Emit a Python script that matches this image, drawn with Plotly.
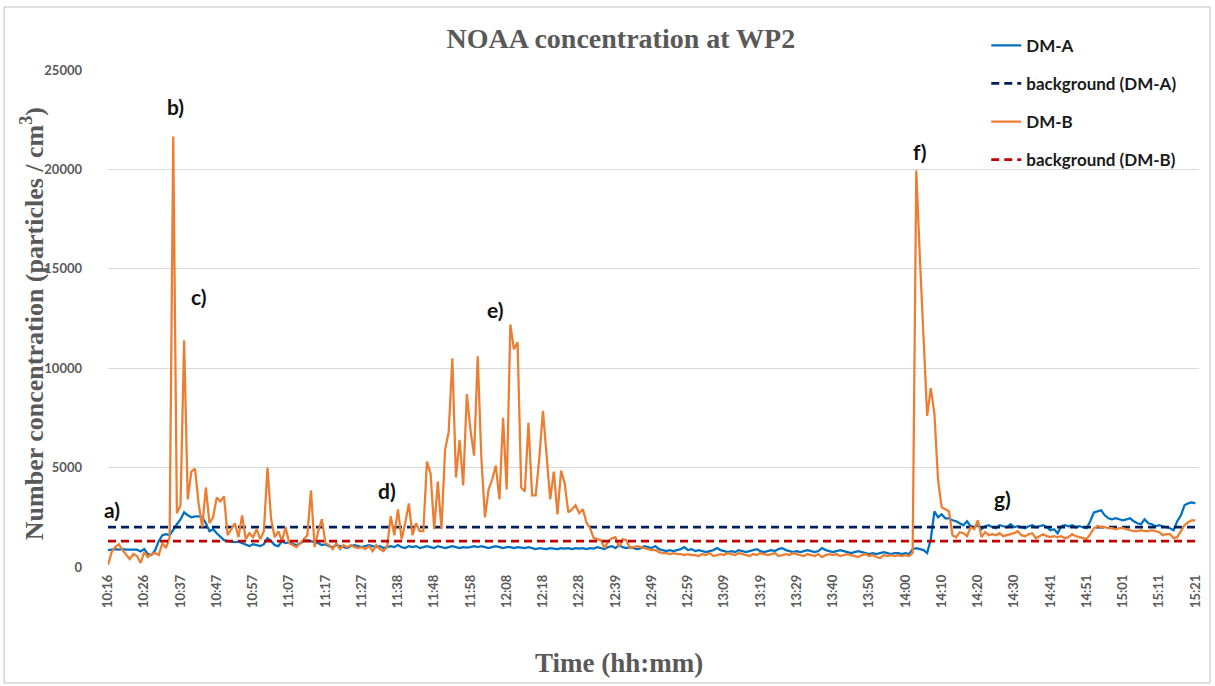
import plotly.graph_objects as go

tick_labels = ["10:16", "10:26", "10:37", "10:47", "10:57", "11:07", "11:17", "11:27",
               "11:38", "11:48", "11:58", "12:08", "12:18", "12:28", "12:39", "12:49",
               "12:59", "13:09", "13:19", "13:29", "13:40", "13:50", "14:00", "14:10",
               "14:20", "14:30", "14:41", "14:51", "15:01", "15:11", "15:21"]
points_per_label = 10

dm_a = [
    850, 880, 900, 880, 900, 870, 860, 880, 870, 780,
    900, 650, 600, 850, 1300, 1600, 1650, 1600, 1900, 2150,
    2400, 2750, 2600, 2500, 2550, 2550, 2500, 2200, 1800, 1900,
    1700, 1500, 1350, 1300, 1280, 1250, 1270, 1200, 1100, 1050,
    1150, 1100, 1050, 1150, 1450, 1300, 1100, 1050, 1300, 1200,
    1250, 1150, 1100, 1200, 1300, 1350, 1300, 1250, 1200, 1100,
    1150, 1050, 1000, 1100, 1050, 1000, 950, 1050, 1100, 1050,
    1000, 1050, 1100, 1050, 1000, 1050, 950, 1000, 1050, 1000,
    1100, 1000, 950, 1050, 1000, 1050, 950, 1000, 1050, 1000,
    950, 1050, 1000, 950, 1000, 1050, 1000, 950, 1000, 980,
    1000, 1050, 1000, 1050, 1000, 950, 1000, 1050, 1000, 950,
    1000, 1000, 950, 1000, 980, 950, 1000, 950, 900, 950,
    930, 900, 950, 930, 900, 950, 920, 950, 900, 950,
    920, 950, 900, 950, 930, 1000, 950, 900, 1000, 1050,
    950, 1100, 1000, 950, 1000, 950, 900, 950, 1050, 1000,
    950, 1050, 900, 850, 800, 850, 800, 850, 900, 1000,
    850, 900, 800, 850, 800, 750, 800, 850, 950, 850,
    800, 750, 800, 750, 850, 800, 750, 800, 850, 900,
    800, 750, 800, 850, 800, 900, 950, 850, 800, 750,
    800, 750, 800, 850, 800, 750, 800, 950, 850, 800,
    750, 800, 850, 800, 750, 700, 750, 800, 750, 700,
    650, 700, 650, 700, 750, 700, 650, 700, 700, 650,
    700, 650, 900, 950, 900, 850, 700, 1400, 2800, 2500,
    2650, 2450, 2450, 2350, 2300, 2200, 2100, 2300, 2050, 2000,
    2100, 1900, 2050, 2100, 2000, 1950, 2100, 2050, 2000, 2150,
    2000, 2050, 2000, 1950, 2050, 2100, 2000, 2050, 2100, 2000,
    1850, 1900, 1700, 2050, 2100, 2050, 2100, 2000, 2050, 2000,
    1950, 2300, 2750, 2800, 2850, 2600, 2450, 2400, 2450, 2400,
    2350, 2400, 2450, 2300, 2200, 2150, 2400, 2200, 2150, 2050,
    2100, 2050, 2000, 1950, 1850, 2300, 2600, 3100, 3200, 3250,
    3200,
]

dm_b = [
    100, 750, 1000, 1150, 850, 600, 400, 650, 550, 200,
    750, 500, 650, 700, 600, 1200, 950, 1500, 21650, 2700,
    3100, 11400, 3400, 4800, 4950, 3200, 2000, 4000, 2200, 2500,
    3500, 3300, 3550, 1600, 1900, 2200, 1500, 2600, 1400, 1700,
    1500, 1900, 1400, 1800, 5000, 2400, 1500, 1800, 1300, 2000,
    1200, 1100, 1000, 1200, 1400, 1600, 3850, 1000, 1800, 2400,
    1200, 1100, 900, 1200, 900, 1100, 1000, 1100, 1000, 950,
    1000, 900, 1050, 800, 1100, 900, 800, 1000, 2550, 1600,
    2900, 1400, 2200, 3200, 1600, 2200, 1800, 1800, 5300, 4700,
    1900, 4300, 1900, 5900, 6800, 10500, 4500, 6400, 4100, 8700,
    6900, 5600, 10600, 5500, 2500, 3900, 4400, 5100, 3400, 7500,
    3900, 12200, 10950, 11300, 4000, 3800, 7250, 3600, 3600, 5500,
    7850, 5400, 3400, 4800, 2650, 4850, 4200, 2750, 2900, 3100,
    2700, 2900, 2250, 1950, 1450, 1400, 1350, 950, 1300, 1450,
    1500, 1000, 1400, 1350, 950, 1000, 1050, 1000, 950, 900,
    850, 850, 750, 700, 700, 650, 700, 650, 650, 600,
    650, 600, 600, 550, 650, 600, 700, 550, 600, 650,
    600, 700, 650, 600, 700, 650, 600, 550, 650, 600,
    700, 650, 600, 650, 700, 550, 600, 650, 600, 700,
    650, 600, 550, 650, 600, 550, 650, 500, 600, 650,
    600, 650, 550, 600, 650, 600, 550, 500, 600, 650,
    550, 600, 500, 450, 600, 550, 600, 550, 600, 550,
    600, 550, 700, 19950, 15500, 11500, 7600, 9000, 7700, 4400,
    3000, 2900, 2800, 1600, 1500, 1750, 1700, 1550, 2000, 1900,
    2350, 1500, 1750, 1600, 1650, 1600, 1700, 1550, 1600, 1650,
    1700, 1800, 1600, 1550, 1650, 1700, 1450, 1550, 1650, 1550,
    1500, 1550, 1500, 1550, 1450, 1500, 1650, 1550, 1500, 1450,
    1400, 1650, 1950, 2050, 2000, 2000, 1950, 1950, 1900, 1950,
    1950, 1900, 1850, 1800, 1800, 1850, 1800, 1800, 1850, 1800,
    1750, 1600, 1650, 1650, 1450, 1500, 1800, 2100, 2250, 2350,
    2350,
]

background_a = 2000
background_b = 1300

# annotation labels: (text, sample index, value)
event_labels = [("a)", 1.2, 2900), ("b)", 18.5, 23150), ("c)", 25.1, 13600),
                ("d)", 77.1, 3830), ("e)", 106.9, 12960), ("f)", 223.8, 20900),
                ("g)", 246.9, 3440)]

y_ticks = [0, 5000, 10000, 15000, 20000, 25000]

xa = list(range(len(dm_a)))
xb = list(range(len(dm_b)))
n_last = max(len(dm_a), len(dm_b)) - 1
tick_vals = [i * points_per_label for i in range(len(tick_labels))]

fig = go.Figure()
fig.add_trace(go.Scatter(x=xa, y=dm_a, mode="lines", name="DM-A", legendgroup="g1",
                         line=dict(color="#0070C0", width=2.25)))
fig.add_trace(go.Scatter(x=[0, n_last], y=[background_a, background_a], mode="lines",
                         name="background (DM-A)", legendgroup="g2",
                         line=dict(color="#002060", width=2.75, dash="8px,5px")))
fig.add_trace(go.Scatter(x=xb, y=dm_b, mode="lines", name="DM-B", legendgroup="g3",
                         line=dict(color="#ED7D31", width=2.25)))
fig.add_trace(go.Scatter(x=[0, n_last], y=[background_b, background_b], mode="lines",
                         name="background (DM-B)", legendgroup="g4",
                         line=dict(color="#C00000", width=2.75, dash="8px,5px")))

for txt, xi, yv in event_labels:
    fig.add_annotation(x=xi, y=yv, text="<b>%s</b>" % txt, showarrow=False,
                       font=dict(family="Lato", size=21, color="#111111"),
                       xanchor="center", yanchor="middle")

serif = "Liberation Serif, Times New Roman, serif"
gray = "#595959"

fig.add_annotation(xref="paper", yref="paper", x=0.4684, y=-0.194,
                   text="<b>Time (hh:mm)</b>", showarrow=False,
                   font=dict(family=serif, size=27, color=gray),
                   xanchor="center", yanchor="middle")
fig.add_annotation(xref="paper", yref="paper", x=-0.069, y=0.49,
                   text="<b>Number concentration (particles / cm<sup>3</sup>)</b>",
                   showarrow=False, textangle=-90,
                   font=dict(family=serif, size=26, color=gray),
                   xanchor="center", yanchor="middle")

fig.add_shape(type="rect", xref="paper", yref="paper",
              x0=-0.0952, x1=1.0101, y0=-0.2334, y1=1.1268,
              line=dict(color="#bfbfbf", width=1), fillcolor="rgba(0,0,0,0)", layer="below")

fig.update_layout(
    width=1215, height=686,
    margin=dict(l=108, r=14, t=70, b=119),
    paper_bgcolor="white", plot_bgcolor="white",
    title=dict(text="<b>NOAA concentration at WP2</b>", x=0.511, xanchor="center",
               y=1 - 38 / 686, yanchor="middle",
               font=dict(family=serif, size=28, color=gray)),
    showlegend=True,
    legend=dict(x=0.805, xanchor="left", y=1.085, yanchor="top",
                bgcolor="rgba(0,0,0,0)", tracegroupgap=13,
                font=dict(family="Lato", size=17, color="#1a1a1a", weight="bold")),
    xaxis=dict(range=[0, n_last + 1], tickmode="array", tickvals=tick_vals,
               ticktext=tick_labels, tickangle=-90, showgrid=False, zeroline=False,
               showline=False, ticks="", ticklabelstandoff=4,
               tickfont=dict(family="Lato", size=13, color=gray, weight="bold")),
    yaxis=dict(range=[0, 25000], tickmode="array", tickvals=y_ticks,
               ticktext=[str(v) for v in y_ticks], showgrid=True,
               gridcolor="#d9d9d9", gridwidth=1, zeroline=False, showline=False,
               ticks="", ticklabelstandoff=25,
               tickfont=dict(family="Lato", size=13, color=gray, weight="bold")),
)

fig.write_html("out.html", config={"displayModeBar": False},
               post_script="document.body.style.margin='0';")
